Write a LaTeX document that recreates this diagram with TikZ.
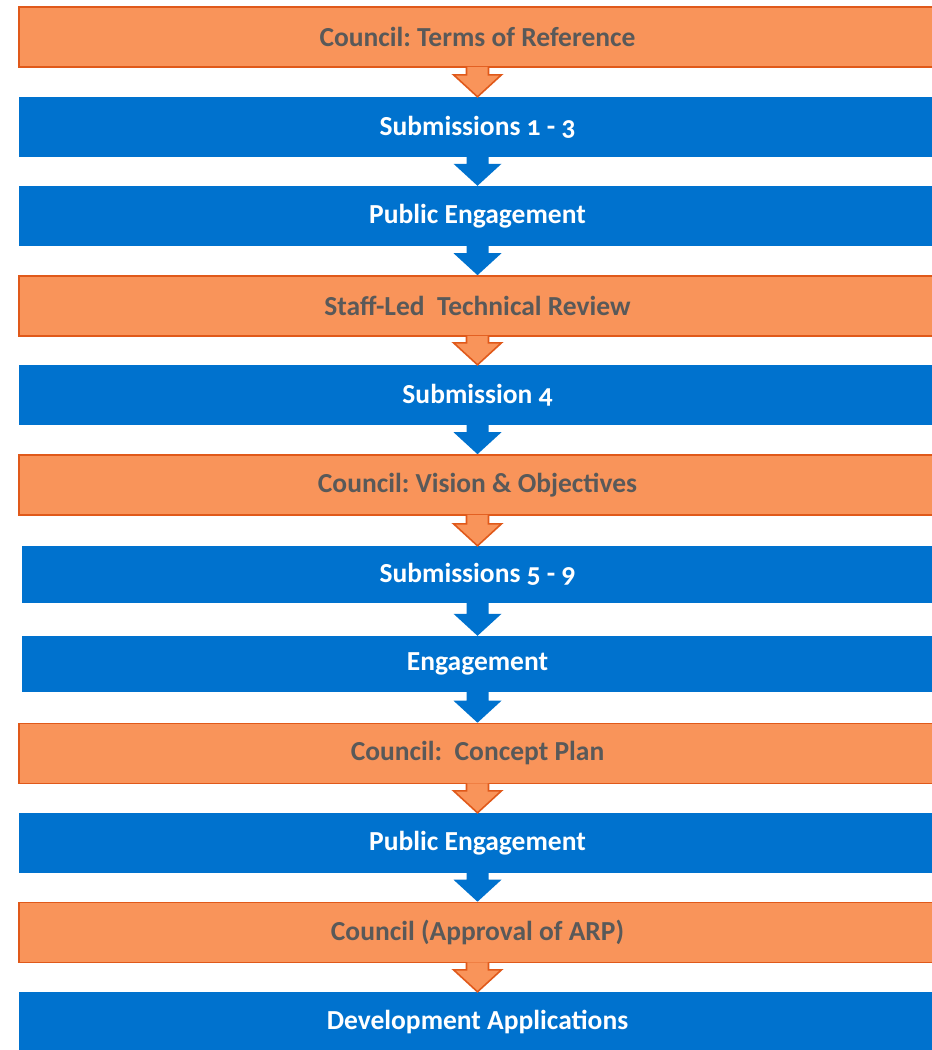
\documentclass[tikz,border=0pt]{standalone}
\usepackage{fontspec}
\setmainfont[Numbers=OldStyle]{Carlito}
\usetikzlibrary{calc}
\frenchspacing

\definecolor{stepOrange}{HTML}{F9945A}
\definecolor{stepOrangeLine}{HTML}{E0591A}
\definecolor{stepBlue}{HTML}{0072CE}
\definecolor{stepGrey}{HTML}{595959}

% block arrow from the bottom of one box to the top of the next
\newcommand{\flowarrow}[3]{%
  \path[#3] ($(#1.south)+(-11,-1)$) -- ($(#2.north)+(-11,-22)$) -- ($(#2.north)+(-24,-22)$)
    -- (#2.north) -- ($(#2.north)+(24,-22)$) -- ($(#2.north)+(11,-22)$) -- ($(#1.south)+(11,-1)$);
}

\begin{document}
\begin{tikzpicture}[x=1pt, y=-1pt,
    council/.style={rectangle, fill=stepOrange, draw=stepOrangeLine, line width=1.6pt,
      minimum width=917pt, minimum height=60pt, inner sep=0pt,
      text=stepGrey, font=\fontsize{27.5}{30}\selectfont\bfseries},
    stage/.style={rectangle, fill=stepBlue, minimum width=917pt, minimum height=60pt,
      inner sep=0pt, text=white, font=\fontsize{27.5}{30}\selectfont\bfseries},
    orangearrow/.style={fill=stepOrange, draw=stepOrangeLine, line width=1.6pt, line join=miter},
    bluearrow/.style={fill=stepBlue}]
    \useasboundingbox (0,0) rectangle (932,1050);
    \clip (0,0) rectangle (932,1050);
    % Boxes
    \node[council] (terms) at (477.5,37) {Council: Terms of Reference};
    \node[stage] (sub13) at (477.5,127) {Submissions 1 - 3};
    \node[stage] (public1) at (477.5,216) {Public Engagement};
    \node[council] (review) at (477.5,306) {Staff-Led\ \ Technical Review};
    \node[stage] (sub4) at (477.5,395) {Submission 4};
    \node[council] (vision) at (477.5,485) {Council: Vision \& Objectives};
    \node[stage, minimum width=911pt, minimum height=57pt] (sub59) at (477.5,574.5) {Submissions 5 - 9};
    \node[stage, minimum width=911pt, minimum height=56pt] (engage) at (477.5,664) {Engagement};
    \node[council] (concept) at (477.5,753.5) {Council:\ \ Concept Plan};
    \node[stage] (public2) at (477.5,843) {Public Engagement};
    \node[council] (approval) at (477.5,932.5) {Council (Approval of ARP)};
    \node[stage] (devapp) at (477.5,1022) {Development Applications};
    % Arrows
    \flowarrow{terms}{sub13}{orangearrow}
    \flowarrow{sub13}{public1}{bluearrow}
    \flowarrow{public1}{review}{bluearrow}
    \flowarrow{review}{sub4}{orangearrow}
    \flowarrow{sub4}{vision}{bluearrow}
    \flowarrow{vision}{sub59}{orangearrow}
    \flowarrow{sub59}{engage}{bluearrow}
    \flowarrow{engage}{concept}{bluearrow}
    \flowarrow{concept}{public2}{orangearrow}
    \flowarrow{public2}{approval}{bluearrow}
    \flowarrow{approval}{devapp}{orangearrow}
\end{tikzpicture}
\end{document}
